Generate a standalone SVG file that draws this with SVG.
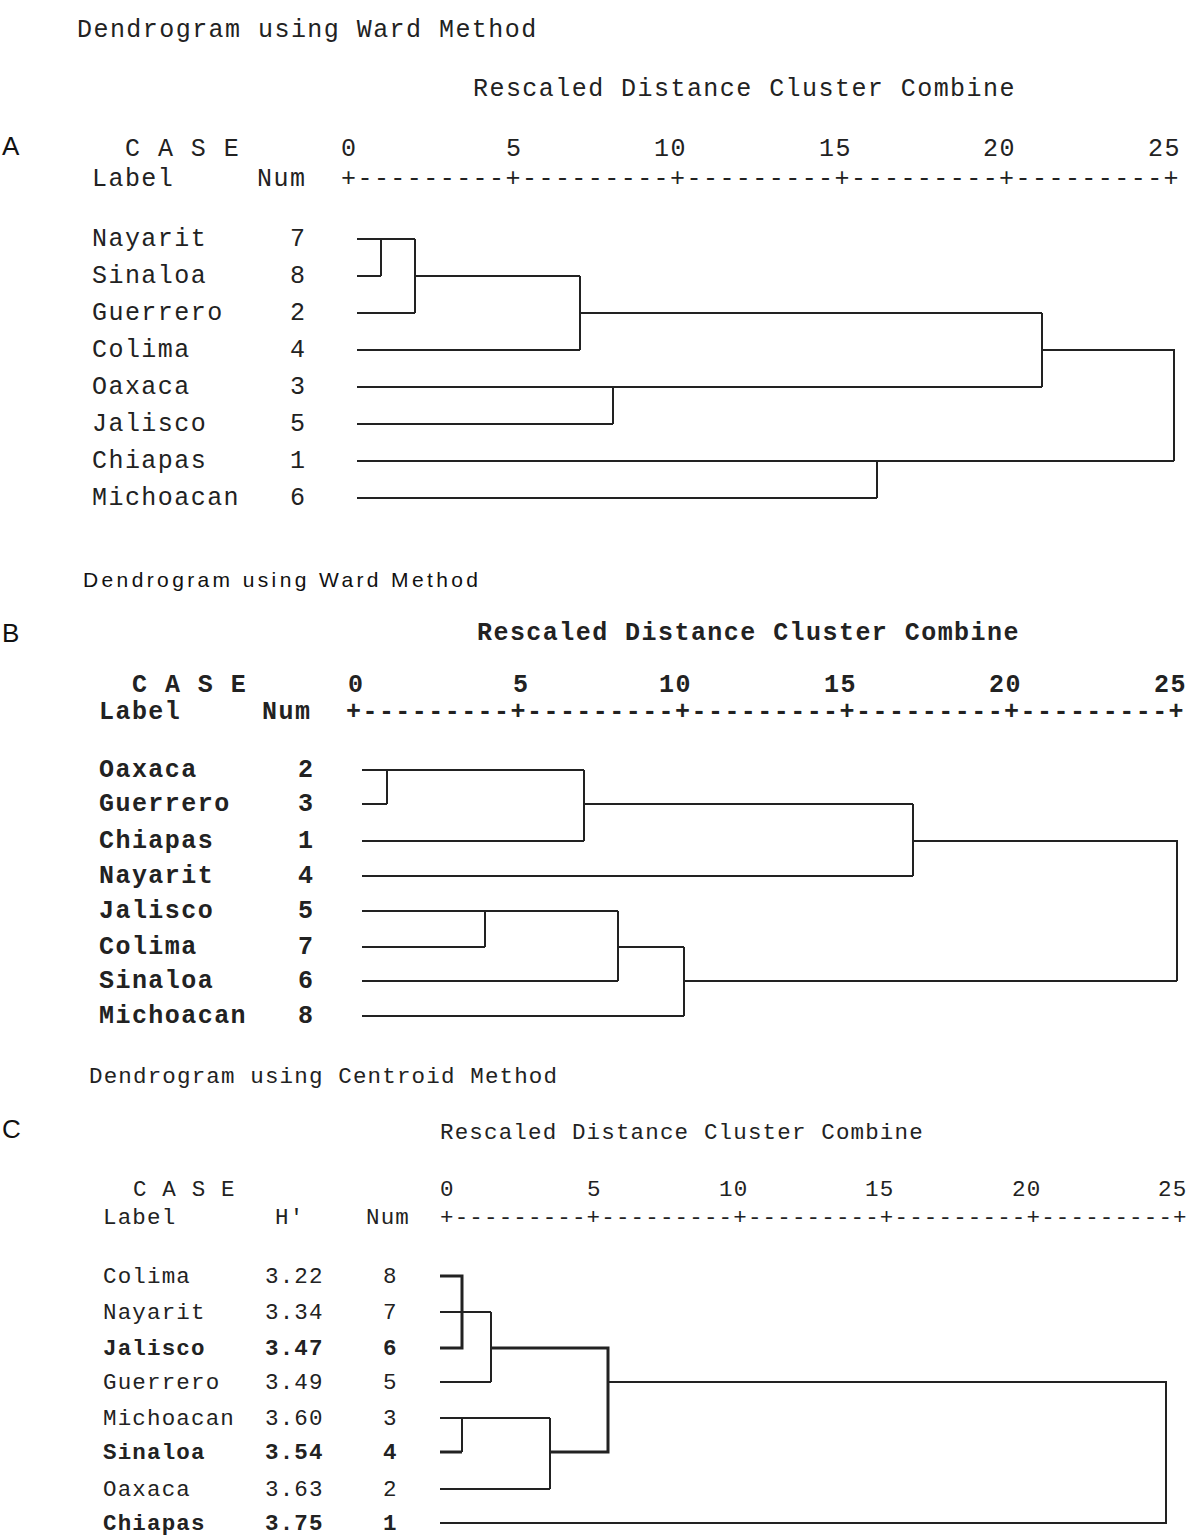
<svg xmlns="http://www.w3.org/2000/svg" width="1200" height="1536" viewBox="0 0 1200 1536">
<style>
.bg{fill:#ffffff}
.mA{font-family:"Liberation Mono","Courier New",monospace;font-size:25px;letter-spacing:1.45px;fill:#222}
.mB{font-family:"Liberation Mono","Courier New",monospace;font-size:25px;letter-spacing:1.45px;fill:#222;font-weight:bold}
.mC{font-family:"Liberation Mono","Courier New",monospace;font-size:22.5px;letter-spacing:1.16px;fill:#222}
.sans{font-family:"Liberation Sans",Arial,sans-serif;fill:#111}
.ln{stroke:#222;stroke-width:2;fill:none}
.thick{stroke-width:3}
</style>
<rect class="bg" x="0" y="0" width="1200" height="1536"/>

<!-- Panel A -->
<g id="panelA">
<text class="mA" x="77" y="37">Dendrogram using Ward Method</text>
<text class="mA" x="473" y="96">Rescaled Distance Cluster Combine</text>
<text class="sans" x="2" y="155" font-size="26">A</text>
<g id="A-axis">
<text class="mA" x="125" y="156">C A S E</text>
<text class="mA" x="341" y="156">0</text>
<text class="mA" x="506" y="156">5</text>
<text class="mA" x="654" y="156">10</text>
<text class="mA" x="819" y="156">15</text>
<text class="mA" x="983" y="156">20</text>
<text class="mA" x="1148" y="156">25</text>
<text class="mA" x="92" y="186">Label</text>
<text class="mA" x="257" y="186">Num</text>
<text class="mA" x="341" y="186">+---------+---------+---------+---------+---------+</text>
</g>
<g id="A-nayarit"><text class="mA" x="92" y="246">Nayarit</text><text class="mA" x="290" y="246">7</text></g>
<g id="A-sinaloa"><text class="mA" x="92" y="283">Sinaloa</text><text class="mA" x="290" y="283">8</text></g>
<g id="A-guerrero"><text class="mA" x="92" y="320">Guerrero</text><text class="mA" x="290" y="320">2</text></g>
<g id="A-colima"><text class="mA" x="92" y="357">Colima</text><text class="mA" x="290" y="357">4</text></g>
<g id="A-oaxaca"><text class="mA" x="92" y="394">Oaxaca</text><text class="mA" x="290" y="394">3</text></g>
<g id="A-jalisco"><text class="mA" x="92" y="431">Jalisco</text><text class="mA" x="290" y="431">5</text></g>
<g id="A-chiapas"><text class="mA" x="92" y="468">Chiapas</text><text class="mA" x="290" y="468">1</text></g>
<g id="A-michoacan"><text class="mA" x="92" y="505">Michoacan</text><text class="mA" x="290" y="505">6</text></g>
<g id="A-connectors">
<path class="ln" d="M357,239 H415 M381,239 V276 M357,276 H381 M357,313 H415 M415,239 V313"/>
<path class="ln" d="M415,276 H580 M357,350 H580 M580,276 V350 M580,313 H1042"/>
<path class="ln" d="M357,387 H1042 M357,424 H613 M613,387 V424 M1042,313 V387"/>
<path class="ln" d="M1042,350 H1174 V461 M357,461 H1174 M357,498 H877 M877,461 V498"/>
</g>
</g>

<!-- Panel B -->
<g id="panelB">
<text class="sans" x="83" y="587" font-size="21" textLength="395" lengthAdjust="spacing">Dendrogram using Ward  Method</text>
<text class="sans" x="2" y="642" font-size="26">B</text>
<text class="mB" x="477" y="640">Rescaled Distance Cluster Combine</text>
<g id="B-axis">
<text class="mB" x="132" y="692">C A S E</text>
<text class="mB" x="348" y="692">0</text>
<text class="mB" x="513" y="692">5</text>
<text class="mB" x="659" y="692">10</text>
<text class="mB" x="824" y="692">15</text>
<text class="mB" x="989" y="692">20</text>
<text class="mB" x="1154" y="692">25</text>
<text class="mB" x="99" y="719">Label</text>
<text class="mB" x="262" y="719">Num</text>
<text class="mB" x="346" y="719">+---------+---------+---------+---------+---------+</text>
</g>
<g id="B-oaxaca"><text class="mB" x="99" y="777">Oaxaca</text><text class="mB" x="298" y="777">2</text></g>
<g id="B-guerrero"><text class="mB" x="99" y="811">Guerrero</text><text class="mB" x="298" y="811">3</text></g>
<g id="B-chiapas"><text class="mB" x="99" y="848">Chiapas</text><text class="mB" x="298" y="848">1</text></g>
<g id="B-nayarit"><text class="mB" x="99" y="883">Nayarit</text><text class="mB" x="298" y="883">4</text></g>
<g id="B-jalisco"><text class="mB" x="99" y="918">Jalisco</text><text class="mB" x="298" y="918">5</text></g>
<g id="B-colima"><text class="mB" x="99" y="954">Colima</text><text class="mB" x="298" y="954">7</text></g>
<g id="B-sinaloa"><text class="mB" x="99" y="988">Sinaloa</text><text class="mB" x="298" y="988">6</text></g>
<g id="B-michoacan"><text class="mB" x="99" y="1023">Michoacan</text><text class="mB" x="298" y="1023">8</text></g>
<g id="B-connectors">
<path class="ln" d="M362,770 H584 M387,770 V804 M362,804 H387 M362,841 H584 M584,770 V841"/>
<path class="ln" d="M584,804 H913 M362,876 H913 M913,804 V876 M913,841 H1177 V981"/>
<path class="ln" d="M362,911 H618 M362,947 H485 M485,911 V947 M362,981 H618 M618,911 V981"/>
<path class="ln" d="M618,947 H684 M362,1016 H684 M684,947 V1016 M684,981 H1177"/>
</g>
</g>

<!-- Panel C -->
<g id="panelC">
<text class="mC" x="89" y="1083">Dendrogram using Centroid Method</text>
<text class="sans" x="2" y="1138" font-size="26">C</text>
<text class="mC" x="440" y="1139">Rescaled Distance Cluster Combine</text>
<g id="C-axis">
<text class="mC" x="133" y="1196">C A S E</text>
<text class="mC" x="440" y="1196">0</text>
<text class="mC" x="587" y="1196">5</text>
<text class="mC" x="719" y="1196">10</text>
<text class="mC" x="865" y="1196">15</text>
<text class="mC" x="1012" y="1196">20</text>
<text class="mC" x="1158" y="1196">25</text>
<text class="mC" x="103" y="1224">Label</text>
<text class="mC" x="275" y="1224">H'</text>
<text class="mC" x="366" y="1224">Num</text>
<text class="mC" x="440" y="1224">+---------+---------+---------+---------+---------+</text>
</g>
<g id="C-colima"><text class="mC" x="103" y="1283">Colima</text><text class="mC" x="265" y="1283">3.22</text><text class="mC" x="383" y="1283">8</text></g>
<g id="C-nayarit"><text class="mC" x="103" y="1319">Nayarit</text><text class="mC" x="265" y="1319">3.34</text><text class="mC" x="383" y="1319">7</text></g>
<g id="C-jalisco"><text class="mC" x="103" y="1355" font-weight="bold">Jalisco</text><text class="mC" x="265" y="1355" font-weight="bold">3.47</text><text class="mC" x="383" y="1355" font-weight="bold">6</text></g>
<g id="C-guerrero"><text class="mC" x="103" y="1389">Guerrero</text><text class="mC" x="265" y="1389">3.49</text><text class="mC" x="383" y="1389">5</text></g>
<g id="C-michoacan"><text class="mC" x="103" y="1425">Michoacan</text><text class="mC" x="265" y="1425">3.60</text><text class="mC" x="383" y="1425">3</text></g>
<g id="C-sinaloa"><text class="mC" x="103" y="1459" font-weight="bold">Sinaloa</text><text class="mC" x="265" y="1459" font-weight="bold">3.54</text><text class="mC" x="383" y="1459" font-weight="bold">4</text></g>
<g id="C-oaxaca"><text class="mC" x="103" y="1496">Oaxaca</text><text class="mC" x="265" y="1496">3.63</text><text class="mC" x="383" y="1496">2</text></g>
<g id="C-chiapas"><text class="mC" x="103" y="1530" font-weight="bold">Chiapas</text><text class="mC" x="265" y="1530" font-weight="bold">3.75</text><text class="mC" x="383" y="1530" font-weight="bold">1</text></g>
<g id="C-connectors">
<path class="ln thick" d="M440,1276 H462 V1348 H440"/>
<path class="ln" d="M440,1312 H491 M440,1382 H491 M491,1312 V1382"/>
<path class="ln thick" d="M491,1348 H608 V1452 H550"/>
<path class="ln" d="M440,1418 H550 M462,1418 V1452 M440,1489 H550 M550,1418 V1489"/>
<path class="ln thick" d="M440,1452 H462"/>
<path class="ln" d="M608,1382 H1166 V1523 H440"/>
</g>
</g>
</svg>
